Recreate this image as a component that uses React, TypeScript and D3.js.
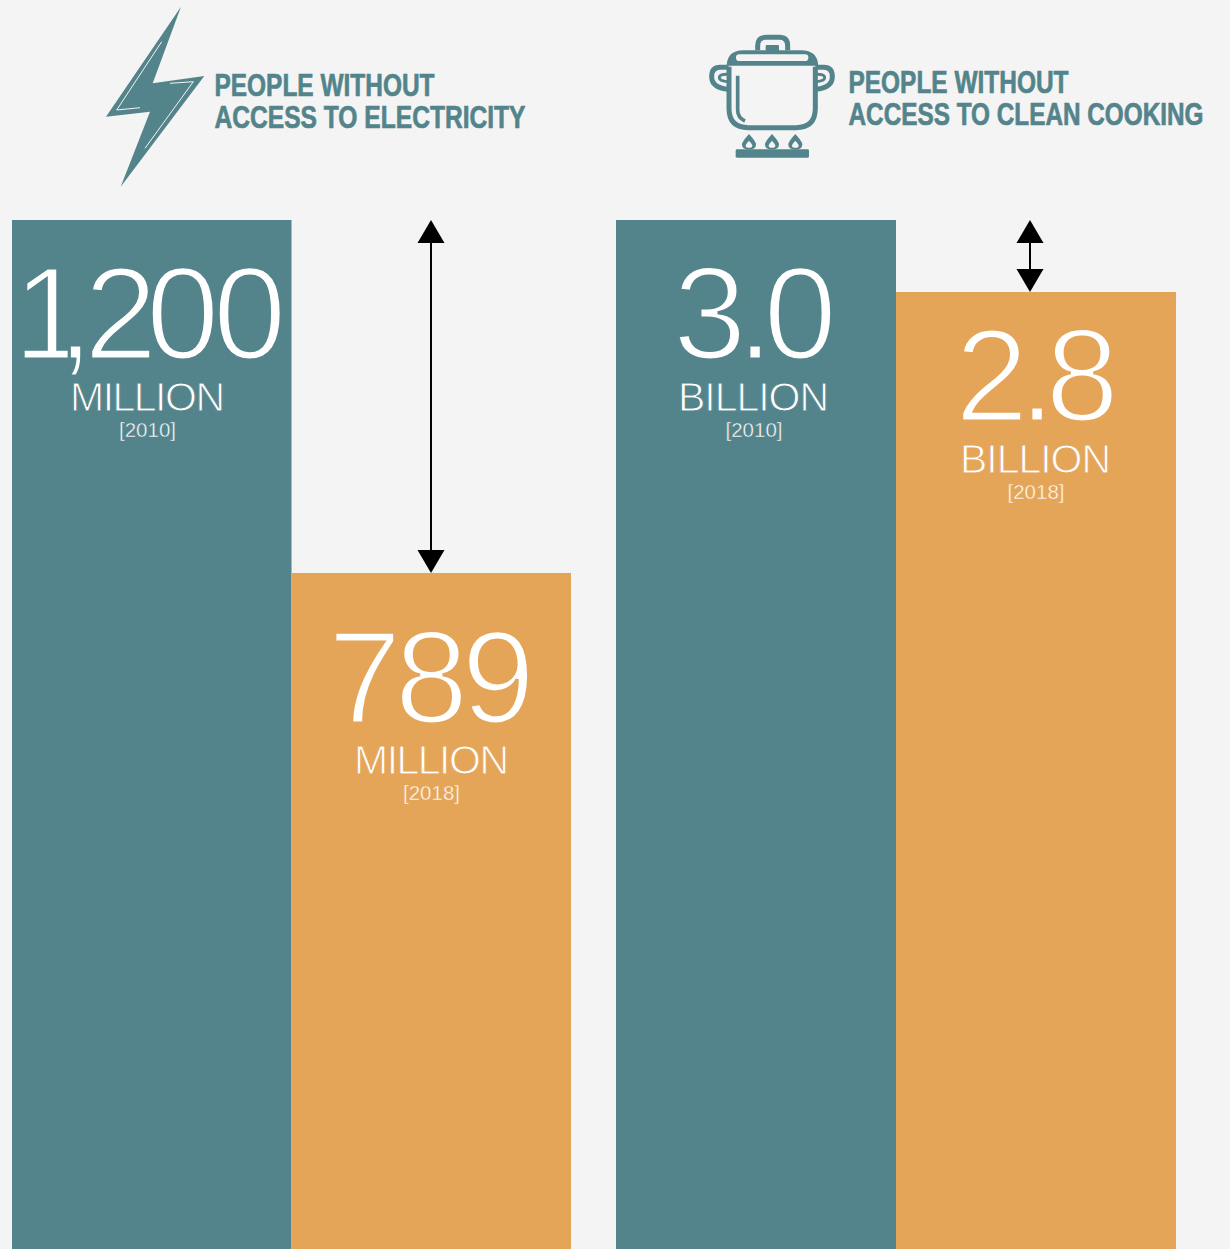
import React from "react";
import * as d3 from "d3";

// Two panels, each comparing 2010 with 2018.
const years = ["2010", "2018"];
const electricityMillions = [1200, 789];
const cookingBillions = [3.0, 2.8];
const electricityLabels = ["1,200", "789"];
const cookingLabels = ["3.0", "2.8"];
const electricityTitle = ["PEOPLE WITHOUT", "ACCESS TO ELECTRICITY"];
const cookingTitle = ["PEOPLE WITHOUT", "ACCESS TO CLEAN COOKING"];

const TEAL = "#54848b";
const ORANGE = "#e5a558";
const BG = "#f4f4f4";
const W = 1230;
const H = 1249;
const TOP = 220;

const SANS = "'Liberation Sans', Arial, sans-serif";
const NARROW = "'Liberation Sans Narrow', 'Liberation Sans', sans-serif";

const xElec = d3.scaleBand<string>().domain(years).range([12, 571]);
const xCook = d3.scaleBand<string>().domain(years).range([616, 1176]);
const yElec = d3.scaleLinear().domain([0, 1200]).range([1250.6, TOP]);
const yCook = d3.scaleLinear().domain([0, 3.0]).range([1300, TOP]);

type LabelSet = {
  top: number; bar: string; value: string; unit: string; year: string;
  valueX: number | string; valueW?: number; valueY: number; unitX: number; unitW: number; unitY: number; yearX: number; yearW: number; yearY: number;
};

// Regular glyphs are thinned with an outline in the bar's own colour to get a light face.
function BarLabel(p: LabelSet) {
  const thin = (w: number) => ({ stroke: p.bar, strokeWidth: w, paintOrder: "fill" as const });
  const fit = p.valueW ? { textLength: p.valueW, lengthAdjust: "spacing" } : {};
  return (
    <g fill="#fff" fontFamily={SANS}>
      <text x={p.valueX} y={p.top + p.valueY} fontSize={132} {...fit} {...thin(3.2)}>{p.value}</text>
      <text x={p.unitX} y={p.top + p.unitY} fontSize={41} textLength={p.unitW} lengthAdjust="spacing" {...thin(1)}>{p.unit}</text>
      <text x={p.yearX} y={p.top + p.yearY} fontSize={20.5} textLength={p.yearW} lengthAdjust="spacing" {...thin(0.45)}>{`[${p.year}]`}</text>
    </g>
  );
}

function DoubleArrow({ x, y0, y1 }: { x: number; y0: number; y1: number }) {
  const hw = 13.5;
  const hh = 23;
  return (
    <g fill="#000">
      <line x1={x} x2={x} y1={y0 + hh / 2} y2={y1 - hh / 2} stroke="#000" strokeWidth={2} />
      <path d={`M${x},${y0}L${x + hw},${y0 + hh}L${x - hw},${y0 + hh}Z`} />
      <path d={`M${x},${y1}L${x + hw},${y1 - hh}L${x - hw},${y1 - hh}Z`} />
    </g>
  );
}

function Title({ lines, x, y, widths }: { lines: string[]; x: number; y: number[]; widths: number[] }) {
  return (
    <g fill={TEAL} stroke={TEAL} strokeWidth={0.7} fontFamily={NARROW} fontWeight={700} fontSize={32}>
      {lines.map((t, i) => (
        <text key={i} x={x} y={y[i]} textLength={widths[i]} lengthAdjust="spacingAndGlyphs">{t}</text>
      ))}
    </g>
  );
}

function Bolt() {
  return (
    <g>
      <path d="M181,6.7L152.7,83.3L204.3,76L120.7,186.7L150,111.7L106,116.7Z" fill={TEAL} />
      <path d="M161.7,41.7L116.7,110L140,107.7M170,83.3L193.3,81.7L145,148.3" fill="none" stroke={BG} strokeWidth={1} />
    </g>
  );
}

function Pot() {
  const flames = [147, 216, 286];
  return (
    <g transform="translate(700,25) scale(0.3333)" fill="none" stroke={TEAL} strokeWidth={15}>
      <path d="M87,125V250Q87,308 145,308H288Q346,308 346,250V125" />
      <path d="M80,122Q82,76 130,76H304Q352,76 355,122Z" fill={TEAL} stroke="none" />
      <rect x={108} y={88} width={217} height={20} rx={10} fill={BG} stroke="none" />
      <path d="M173,76V62Q173,37 198,37H238Q263,37 263,62V76" />
      <rect x={197} y={60} width={40} height={18} rx={3} fill={TEAL} stroke="none" />
      <path d="M113,152V255Q113,278 135,288" strokeWidth={11} />
      <path d="M86,127H60Q35,127 35,155Q35,188 86,193" />
      <path d="M86,148Q58,146 58,158Q58,168 86,170" strokeWidth={9} />
      <path d="M346,127H372Q397,127 397,155Q397,188 346,193" />
      <path d="M346,148Q374,146 374,158Q374,168 346,170" strokeWidth={9} />
      {flames.map((fx) => (
        <g key={fx} transform={`translate(${fx},0)`}>
          <path d="M0,327Q-21,350 -21,358Q-21,374 0,374Q21,374 21,358Q21,350 0,327Z" fill={TEAL} stroke="none" />
          <path d="M0,347Q-10,358 -10,362Q-10,368 0,368Q10,368 10,362Q10,358 0,347Z" fill={BG} stroke="none" />
        </g>
      ))}
      <rect x={107} y={373} width={220} height={25} rx={4} fill={TEAL} stroke="none" />
    </g>
  );
}

export default function App() {
  const colors = d3.scaleOrdinal<string, string>().domain(years).range([TEAL, ORANGE]);
  return (
    <svg width={W} height={H} viewBox={`0 0 ${W} ${H}`} style={{ position: "absolute", left: 0, top: 0, background: BG, display: "block" }}>
      <rect width={W} height={H} fill={BG} />

      {years.map((yr, i) => (
        <rect key={`e${yr}`} x={xElec(yr)} y={yElec(electricityMillions[i])} width={xElec.bandwidth()} height={yElec(0) - yElec(electricityMillions[i])} fill={colors(yr)} />
      ))}
      {years.map((yr, i) => (
        <rect key={`c${yr}`} x={xCook(yr)} y={yCook(cookingBillions[i])} width={xCook.bandwidth()} height={yCook(0) - yCook(cookingBillions[i])} fill={colors(yr)} />
      ))}

      <Bolt />
      <Pot />
      <Title lines={electricityTitle} x={214.5} y={[95.5, 127.5]} widths={[220, 311]} />
      <Title lines={cookingTitle} x={848.5} y={[93, 125]} widths={[220, 355]} />

      <BarLabel top={yElec(electricityMillions[0])} bar={TEAL} value={electricityLabels[0]} unit="MILLION" year={years[0]}
        valueX="13 57 84 146 213" valueY={139} unitX={70} unitW={155} unitY={191} yearX={119} yearW={57} yearY={217} />
      <BarLabel top={yElec(electricityMillions[1])} bar={ORANGE} value={electricityLabels[1]} unit="MILLION" year={years[1]}
        valueX={328} valueW={207} valueY={150} unitX={354} unitW={155} unitY={201} yearX={403} yearW={57} yearY={227} />
      <BarLabel top={yCook(cookingBillions[0])} bar={TEAL} value={cookingLabels[0]} unit="BILLION" year={years[0]}
        valueX={673} valueW={164} valueY={139} unitX={678} unitW={151} unitY={191} yearX={725.5} yearW={57} yearY={217} />
      <BarLabel top={yCook(cookingBillions[1])} bar={ORANGE} value={cookingLabels[1]} unit="BILLION" year={years[1]}
        valueX={955} valueW={164} valueY={129} unitX={960} unitW={151} unitY={181} yearX={1007.5} yearW={57} yearY={207} />

      <DoubleArrow x={431} y0={yElec(electricityMillions[0])} y1={yElec(electricityMillions[1])} />
      <DoubleArrow x={1030} y0={yCook(cookingBillions[0])} y1={yCook(cookingBillions[1])} />
    </svg>
  );
}
